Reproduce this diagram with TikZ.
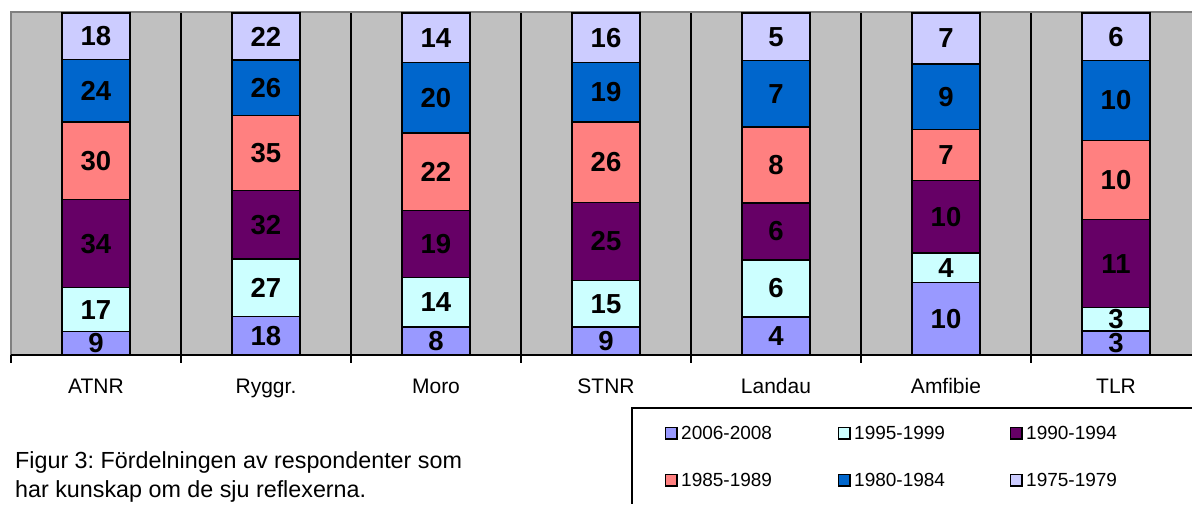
\documentclass[tikz,border=0pt]{standalone}
\usepackage{fontspec}
\setmainfont{Liberation Sans}
\frenchspacing
\usetikzlibrary{positioning}
\definecolor{bar1}{HTML}{9999FF}
\definecolor{bar2}{HTML}{CCFFFF}
\definecolor{bar3}{HTML}{660066}
\definecolor{bar4}{HTML}{FF8080}
\definecolor{bar5}{HTML}{0066CC}
\definecolor{bar6}{HTML}{CCCCFF}
\definecolor{plotgray}{HTML}{C0C0C0}
\definecolor{plotedge}{HTML}{808080}
\tikzset{
    segnode/.style={rectangle, draw=black, line width=1.4pt, minimum width=68pt, inner sep=0pt, text centered, font=\fontsize{27.5}{27.5}\selectfont\bfseries},
    catlabel/.style={anchor=base, inner sep=0pt, font=\fontsize{21}{21}\selectfont},
    keybox/.style={rectangle, draw=black, line width=1.5pt, minimum size=11.5pt, inner sep=0pt},
    keylabel/.style={inner sep=0pt, font=\fontsize{19}{19}\selectfont},
    captext/.style={anchor=base west, inner sep=0pt, font=\fontsize{23.3}{23.3}\selectfont},
    gridline/.style={draw=black, line width=1.3pt},
    edgeline/.style={draw=plotedge, line width=2pt}
}
\begin{document}
\begin{tikzpicture}[x=1pt, y=-1pt]
    \useasboundingbox (0,0) rectangle (1192,504);

        % ------------------
        % plot area
        % ------------------

        \fill[plotgray] (11,12) rectangle (1192,355);
        \draw[edgeline] (11,355) -- (11,12) -- (1192,12);
        \foreach \k in {1,...,6}
            \draw[gridline] (11+170*\k,13) -- (11+170*\k,355);
        \draw[gridline] (11,355) -- (1192,355);
        \foreach \k in {0,...,6}
            \draw[gridline] (11+170*\k,355) -- (11+170*\k,363);

        % ------------------
        % bars
        % ------------------

        \foreach \cat/\total/\vals [count=\i from 0] in {
            ATNR/132/{9,17,34,30,24,18},
            Ryggr./160/{18,27,32,35,26,22},
            Moro/97/{8,14,19,22,20,14},
            STNR/110/{9,15,25,26,19,16},
            Landau/36/{4,6,6,8,7,5},
            Amfibie/47/{10,4,10,7,9,7},
            TLR/43/{3,3,11,10,10,6}} {
            \node[catlabel] (cat\i) at (96+170*\i,393) {\cat};
            \foreach \v [count=\j, remember=\cum as \prev (initially 0)] in \vals {
                \pgfmathsetmacro\cum{\prev+\v}
                \pgfmathsetmacro\ymid{355-(\prev+\v/2)/\total*342}
                \pgfmathsetmacro\h{\v/\total*342}
                \node[segnode, fill=bar\j, minimum height=\h pt] (seg\i-\j) at (96+170*\i,\ymid) {\v};
            }
        }

        % ------------------
        % caption
        % ------------------

        \node[captext] (caption1) at (15,468) {Figur 3: Fördelningen av respondenter som};
        \node[captext] (caption2) at (15,497) {har kunskap om de sju reflexerna.};

        % ------------------
        % legend
        % ------------------

        \draw[gridline] (1192,408) -- (632,408) -- (632,504);
        \foreach \yr/\j/\px/\py in {2006-2008/1/671/433, 1995-1999/2/844/433, 1990-1994/3/1016/433,
                                  1985-1989/4/671/480, 1980-1984/5/844/480, 1975-1979/6/1016/480} {
            \node[keybox, fill=bar\j] (key\j) at (\px,\py) {};
            \node[keylabel, right=3.5pt of key\j] (keytext\j) {\yr};
        }

    \end{tikzpicture}
\end{document}
